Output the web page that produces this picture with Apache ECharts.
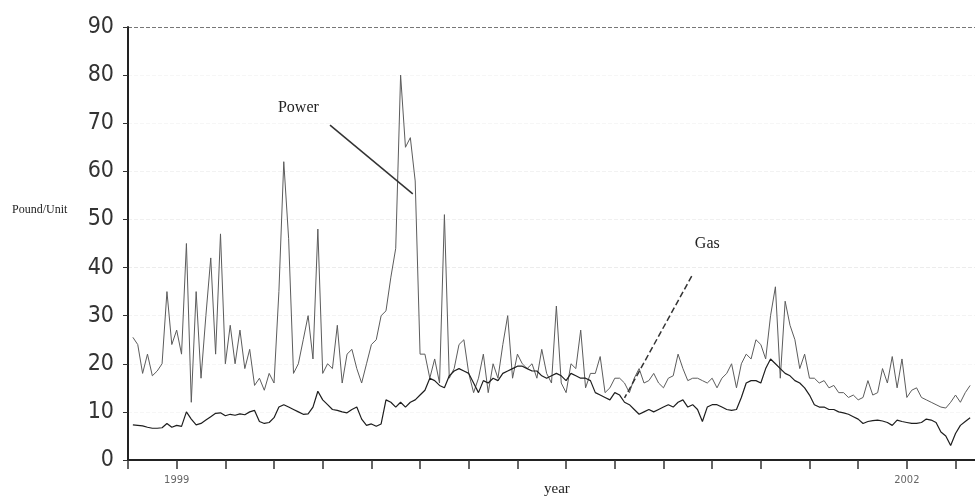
<!DOCTYPE html>
<html>
<head>
<meta charset="utf-8">
<script src="https://cdn.jsdelivr.net/npm/echarts@6/dist/echarts.min.js"></script>
<style>
  html, body { margin: 0; padding: 0; background: #fff; }
  #chart { width: 975px; height: 499px; }
</style>
</head>
<body>
<div id="chart"></div>
<script>
// readings taken every 0.1 of a tick interval along the x axis
const sampleStep = 0.1;

const powerValues = [
  25.5, 24, 18, 22, 17.5, 18.5, 20, 35, 24, 27,
  22, 45, 12, 35, 17, 30, 42, 22, 47, 20,
  28, 20, 27, 19, 23, 15.5, 17, 14.5, 18, 16,
  35, 62, 46, 18, 20, 25, 30, 21, 48, 18,
  20, 19, 28, 16, 22, 23, 19, 16, 20, 24,
  25, 30, 31, 38, 44, 80, 65, 67, 58, 22,
  22, 17, 21, 16, 51, 17, 19, 24, 25, 18,
  14, 17, 22, 14, 20, 17, 24, 30, 17, 22,
  20, 19, 20, 17, 23, 18, 16, 32, 16, 14,
  20, 19, 27, 15, 18, 18, 21.5, 14, 15, 17,
  17, 16, 14, 17, 19, 16, 16.5, 18, 16, 15,
  17, 17.5, 22, 19, 16.5, 17, 17, 16.5, 16, 17,
  15, 17, 18, 20, 15, 20, 22, 21, 25, 24,
  21, 30, 36, 17, 33, 28, 25, 19, 22, 17,
  17, 16, 16.5, 15, 15.5, 14, 14, 13, 13.5, 12.5,
  13, 16.5, 13.5, 14, 19, 16, 21.5, 15, 21, 13,
  14.5, 15, 13, 12.5, 12, 11.5, 11, 10.8, 12, 13.5,
  12, 14, 15.5
];

const gasValues = [
  7.3, 7.2, 7.1, 6.8, 6.6, 6.6, 6.7, 7.6, 6.8, 7.2,
  7, 10, 8.5, 7.3, 7.6, 8.3, 9, 9.7, 9.8, 9.2,
  9.5, 9.3, 9.6, 9.4, 10, 10.3, 8, 7.6, 7.8, 8.8,
  11, 11.5, 11, 10.5, 10, 9.5, 9.6, 11, 14.3, 12.5,
  11.5, 10.5, 10.3, 10, 9.8, 10.5, 11, 8.5, 7.2, 7.5,
  7, 7.5, 12.5, 12, 11, 12, 11, 12, 12.5, 13.5,
  14.5, 17, 16.5, 15.5, 15, 17.5, 18.5, 19, 18.5, 18,
  16, 14, 16.5, 16, 17, 16.5, 18, 18.5, 19, 19.5,
  19.5, 19, 18.5, 18.5, 17.5, 17, 17.5, 18, 17.5, 16.5,
  18, 17.5, 17, 17, 16.5, 14, 13.5, 13, 12.5, 14,
  13.5, 12, 11.5, 10.5, 9.5, 10, 10.5, 10, 10.5, 11,
  11.5, 11, 12, 12.5, 11, 11.5, 10.5, 8, 11, 11.5,
  11.5, 11, 10.5, 10.3, 10.5, 13, 16, 16.5, 16.5, 16,
  19, 21, 20, 19, 18, 17.5, 16.5, 16, 15, 13.5,
  11.5, 11, 11, 10.5, 10.5, 10, 9.8, 9.5, 9, 8.5,
  7.6, 8, 8.2, 8.3, 8.1, 7.8, 7.2, 8.3, 8, 7.8,
  7.6, 7.6, 7.8, 8.5, 8.3, 7.8, 5.8, 5, 3, 5.5,
  7.2, 8, 8.8
];

const yearTicks = [1, 16];
const yearLabels = ['1999', '2002'];

const toPairs = vals => vals.map((v, i) => [(i + 1) * sampleStep, v]);

const chart = echarts.init(document.getElementById('chart'));
chart.setOption({
  animation: false,
  backgroundColor: '#fff',
  grid: { left: 128, right: 0, top: 27, bottom: 39 },
  xAxis: {
    type: 'value',
    min: 0,
    max: 17.4,
    interval: 1,
    axisLine: { lineStyle: { color: '#222', width: 2 } },
    axisTick: { length: 9, lineStyle: { color: '#333', width: 1.5 } },
    axisLabel: {
      showMaxLabel: false,
      margin: 15,
      fontSize: 11,
      color: '#666',
      fontFamily: 'DejaVu Sans Condensed, sans-serif',
      formatter: v => {
        const k = yearTicks.findIndex(t => Math.abs(t - v) < 1e-6);
        return k >= 0 ? yearLabels[k] : '';
      }
    },
    splitLine: { show: false }
  },
  yAxis: {
    type: 'value',
    min: 0,
    max: 90,
    interval: 10,
    axisLine: { show: true, lineStyle: { color: '#222', width: 2 } },
    axisTick: { show: true, length: 5, lineStyle: { color: '#333' } },
    axisLabel: {
      margin: 14,
      fontSize: 23,
      color: '#333',
      fontFamily: 'DejaVu Sans Condensed, sans-serif'
    },
    splitLine: {
      show: true,
      lineStyle: {
        type: 'dashed',
        width: 1,
        color: ['transparent', '#f6f6f6', '#f6f6f6', '#f3f3f3', '#ececec',
                '#f0f0f0', '#f2f2f2', '#f6f6f6', '#f6f6f6', '#777']
      }
    }
  },
  graphic: [
    { type: 'text', left: 12, top: 204, style: { text: 'Pound/Unit', font: '12px Liberation Serif, serif', fill: '#222' } },
    { type: 'text', left: 544, top: 482, style: { text: 'year', font: '15px Liberation Serif, serif', fill: '#222' } }
  ],
  series: [
    {
      name: 'Power',
      type: 'line',
      showSymbol: false,
      z: 2,
      lineStyle: { color: '#5c5c5c', width: 1 },
      data: toPairs(powerValues),
      markLine: {
        silent: true,
        symbol: 'none',
        label: { show: false },
        lineStyle: { color: '#333', width: 1.5, type: 'solid' },
        data: [[{ coord: [4.15, 69.6] }, { coord: [5.85, 55.3] }]]
      },
      markPoint: {
        silent: true,
        symbolSize: 0,
        data: [{ coord: [3.5, 73.2] }],
        label: { show: true, formatter: 'Power', color: '#222', fontSize: 16, fontFamily: 'Liberation Serif, serif' }
      }
    },
    {
      name: 'Gas',
      type: 'line',
      showSymbol: false,
      z: 3,
      lineStyle: { color: '#1e1e1e', width: 1.2 },
      data: toPairs(gasValues),
      markLine: {
        silent: true,
        symbol: 'none',
        label: { show: false },
        lineStyle: { color: '#333', width: 1.5, type: 'dashed' },
        data: [[{ coord: [11.58, 38.2] }, { coord: [10.2, 12.9] }]]
      },
      markPoint: {
        silent: true,
        symbolSize: 0,
        data: [{ coord: [11.9, 44.9] }],
        label: { show: true, formatter: 'Gas', color: '#222', fontSize: 16, fontFamily: 'Liberation Serif, serif' }
      }
    }
  ]
});
</script>
</body>
</html>
